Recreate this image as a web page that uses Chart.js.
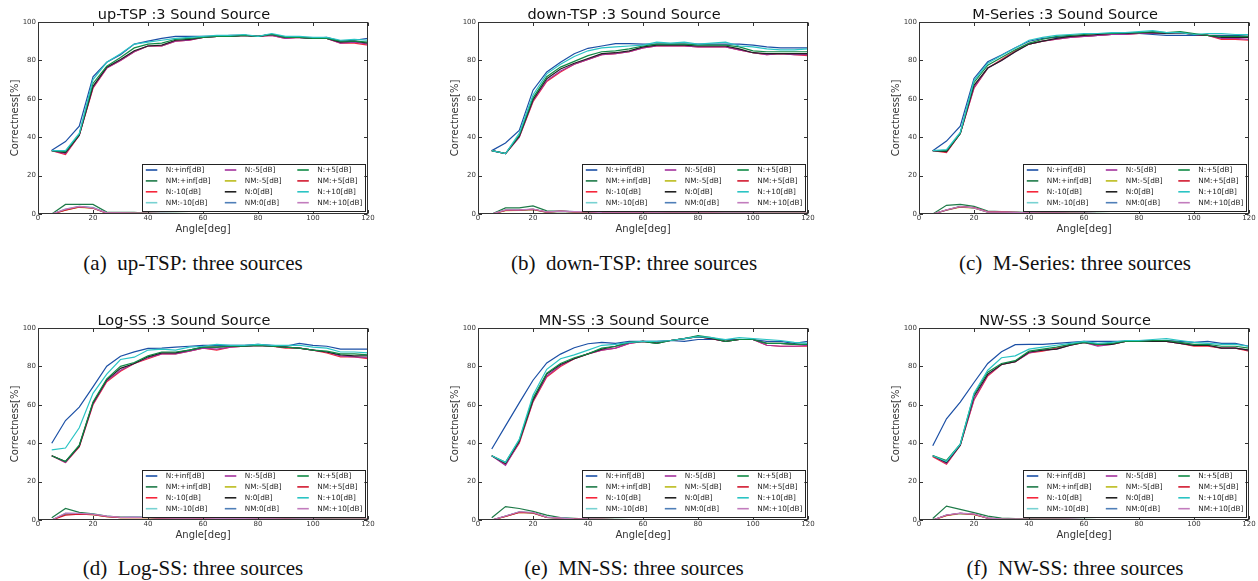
<!DOCTYPE html>
<html>
<head>
<meta charset="utf-8">
<script src="https://cdn.jsdelivr.net/npm/chart.js@4.4.0/dist/chart.umd.min.js"></script>
<style>
  html, body { margin: 0; padding: 0; background: #fff; }
  #fig { position: relative; width: 1258px; height: 581px; overflow: hidden; background: #fff; }
  .panel { position: absolute; width: 376px; height: 240px; }
  .cap { position: absolute; width: 320px; height: 24px; line-height: 24px; text-align: center;
         font-family: "Liberation Serif", "Times New Roman", serif; font-size: 21px; color: #111; white-space: pre; }
</style>
</head>
<body>
<div id="fig"></div>
<script>
// ---- shared axes ----
const angles = [5,10,15,20,25,30,35,40,45,50,55,60,65,70,75,80,85,90,95,100,105,110,115,120];
const xTicks = [0,20,40,60,80,100,120];
const yTicks = [0,20,40,60,80,100];

const seriesLabels = ['N:+inf[dB]','NM:+inf[dB]','N:-10[dB]','NM:-10[dB]','N:-5[dB]','NM:-5[dB]',
                      'N:0[dB]','NM:0[dB]','N:+5[dB]','NM:+5[dB]','N:+10[dB]','NM:+10[dB]'];
const seriesColors = ['#1b4fa5','#1d7a48','#f5273b','#78d2d2','#a3339d','#bcbc1c',
                      '#222222','#4f7fb8','#0f8a45','#d2182e','#2ac4c4','#c27cbd'];

const panelTitles = ['up-TSP :3 Sound Source','down-TSP :3 Sound Source','M-Series :3 Sound Source',
                     'Log-SS :3 Sound Source','MN-SS :3 Sound Source','NW-SS :3 Sound Source'];
const panelCaptions = ['(a)  up-TSP: three sources','(b)  down-TSP: three sources','(c)  M-Series: three sources',
                       '(d)  Log-SS: three sources','(e)  MN-SS: three sources','(f)  NW-SS: three sources'];

// ---- (a) up-TSP ----
const a_N_inf  = [33.2,37.7,45.7,71.5,79,83,88.5,90,91.5,92.5,92.5,92.5,92.5,93,93,92.5,93.5,92,92,91.5,92,90,90.5,91.5];
const a_N_p10  = [33,33,42,70,79,83.5,88.5,89.5,90.5,91.5,92,92.5,93,93,93.5,92.5,94,92.5,92.5,92,92,90.5,91,90.5];
const a_N_p5   = [33,32.5,41.5,68,77,81.5,86.5,88.5,89,91,91.5,92,92.5,92.5,93,92.5,93.5,92,92,91.5,91.5,90,90,89.5];
const a_N_0    = [33,32,41,66.5,76.5,80.5,85,87.5,88,90.5,91,92,92.5,92.5,93,92.5,93.5,92,92,91.5,91.5,89.5,90,89];
const a_N_m5   = [33,31.5,41,66,76,80,84.5,87.5,87.5,90,90.5,92,92.5,92.5,93,92.5,93,91.5,92,91.5,91.5,89,89.5,88.5];
const a_N_m10  = [33,31,41,65.5,76,80,84.5,87.5,87.5,90,90.5,92,92.5,92.5,93,92.5,93,91.5,92,91.5,91.5,89,89,88];
const a_NM_inf = [0,5,5,5,1,0.8,0.8,0.4,0.3,0.3,0.2,0.1,0.1,0,0,0,0,0,0,0,0,0,0,0];
const a_NM_m10 = [0,2.5,4,3.5,0.6,0.6,0.5,0.3,0.3,0.2,0.1,0,0,0,0,0,0,0,0,0,0,0,0,0];
const a_NM_m5  = [0,2,3.5,3,0.5,0.6,0.5,0.3,0.2,0.2,0.1,0,0,0,0,0,0,0,0,0,0,0,0,0];
const a_NM_0   = [0,2.2,3.8,3.2,0.5,0.5,0.4,0.3,0.2,0.2,0.1,0.1,0,0,0,0,0,0,0,0,0,0,0,0];
const a_NM_p5  = [0,2,3.7,3,0.5,0.5,0.4,0.3,0.2,0.2,0.1,0,0,0,0,0,0,0,0,0,0,0,0,0];
const a_NM_p10 = [0,2.5,4,3.2,0.6,0.6,0.5,0.3,0.3,0.2,0.1,0.1,0,0,0,0,0,0,0,0,0,0,0,0];

// ---- (b) down-TSP ----
const b_N_inf  = [33,37,43.5,64.5,74,79,83.5,86.3,87.5,88.7,88.7,88.5,88.5,88.5,88.5,88.5,88.5,88.5,88.5,88,87,86.5,86.5,86.5];
const b_N_p10  = [33,31.5,42,62,73,78,82,85,86.5,87,87.5,88,89.5,89,89.5,88.5,89,89.5,87.5,87,86,85.5,85.5,86];
const b_N_p5   = [33,31.5,41,60.5,71.5,76.5,79.5,82.5,84.5,85,86,87.5,88.5,88.5,88.5,88,88,88,87,85,84.5,84.5,84.5,84.5];
const b_N_0    = [33,31.5,40.5,59.5,70.5,75.5,78.5,81,83.5,84,85,87,88,88,88,87.5,87.5,87.5,86,84,83.5,83.5,83.5,83.5];
const b_N_m5   = [33,31.5,40,59,69.5,74.5,78,80.5,83,83.5,84.5,86.5,87.5,87.5,87.5,87,87,87,85.5,84,83,83.5,83,83];
const b_N_m10  = [33,31.5,40,58.5,69,74,78,80.5,83,83.5,84.5,86.5,87.5,87.5,87.5,87,87,87,85.5,84,83,83.5,83,82.5];
const b_NM_inf = [0,3.2,3.2,4.2,1.6,1.5,1.1,1.3,0.8,0.7,0.6,0.6,0.6,0.5,0.5,0.5,0.5,0.5,0.5,0.4,0.4,0.4,0.4,0.4];
const b_NM_m10 = [0,2,2,2.5,1,1.5,1.2,1.2,0.6,0.6,0.6,0.5,0.5,0.5,0.5,0.5,0.5,0.5,0.4,0.4,0.4,0.4,0.4,0.4];
const b_NM_m5  = [0,1.8,1.9,2.3,0.9,1.4,1.1,1.1,0.6,0.6,0.5,0.5,0.5,0.5,0.4,0.4,0.4,0.4,0.4,0.4,0.3,0.3,0.3,0.3];
const b_NM_0   = [0,2,2,2.4,1,1.4,1.2,1.1,0.6,0.6,0.5,0.5,0.5,0.5,0.5,0.4,0.4,0.4,0.4,0.4,0.4,0.3,0.3,0.3];
const b_NM_p5  = [0,1.9,2,2.4,1,1.5,1.1,1.2,0.6,0.6,0.6,0.6,0.5,0.5,0.5,0.5,0.5,0.4,0.4,0.4,0.4,0.4,0.4,0.4];
const b_NM_p10 = [0,2.1,2.1,2.6,1.1,1.5,1.2,1.2,0.7,0.6,0.6,0.6,0.6,0.5,0.5,0.5,0.5,0.5,0.5,0.5,0.4,0.4,0.4,0.4];

// ---- (c) M-Series ----
const c_N_inf  = [33,38,45.7,70.6,79.3,82.8,86.6,90,91.5,92,92.5,92.5,93,93.5,94,94,93.5,93,93,93,93,93,93,92.5];
const c_N_p10  = [33,33.5,42.5,69.5,78.5,82.5,86.5,90.5,92,93,93.5,94,94,94.5,94.5,95,95.5,94.5,94.5,93.5,94,94,93.5,93.5];
const c_N_p5   = [33,33,42,68.5,77.5,81.5,85.5,89,91,92.5,93,93.5,94,94,94.5,94.5,95,94.5,95,94,93,92.5,92.5,92.5];
const c_N_0    = [33,32.5,42,67,76,80,84.5,88.5,90,91.5,92.5,93,93.5,94,94,94.5,94.5,94,94.5,93.5,93,92,92,92];
const c_N_m5   = [33,32.5,42,66,76,80,84.5,88.5,90,91,92,92.5,93,93.5,93.5,94,94,94,94.5,93.5,93,91.5,91.5,91];
const c_N_m10  = [33,32,42,65.5,76,80.5,85,88.5,90,91,92,92.5,93,93.5,93.5,94,94,94,94.5,93.5,93,91,91,90.5];
const c_NM_inf = [0,4.5,5,4,1.5,1.2,1,0.8,0.6,0.5,0.4,0.4,0.3,0.2,0.2,0.1,0,0,0,0,0,0,0,0];
const c_NM_m10 = [0,2.2,4,3.4,1.1,1,0.8,0.6,0.5,0.5,0.3,0.3,0.2,0.2,0.1,0.1,0,0,0,0,0,0,0,0];
const c_NM_m5  = [0,2,3.6,3,1,1,0.8,0.6,0.5,0.4,0.3,0.2,0.2,0.1,0.1,0,0,0,0,0,0,0,0,0];
const c_NM_0   = [0,2,3.8,3.2,1,1.1,0.8,0.6,0.5,0.5,0.3,0.3,0.2,0.2,0.1,0.1,0,0,0,0,0,0,0,0];
const c_NM_p5  = [0,2.1,3.8,3.3,1.1,1.1,0.9,0.6,0.5,0.5,0.3,0.3,0.2,0.2,0.1,0.1,0,0,0,0,0,0,0,0];
const c_NM_p10 = [0,2.2,3.9,3.2,1,1,0.8,0.6,0.5,0.5,0.4,0.3,0.2,0.2,0.1,0.1,0.1,0,0,0,0,0,0,0];

// ---- (d) Log-SS ----
const d_N_inf  = [40,51.8,58.8,69.3,80.1,85.3,87.6,89.4,89.5,90,90.5,91,91,91,91,91.5,91,90.5,92,91,90.5,89,89,89];
const d_N_p10  = [36.5,37.5,48,66,76,83.6,84.8,88.5,89,88.5,90,90.5,91.5,91,91,91.5,91,91,91,90,89.5,87.5,87.5,87];
const d_N_p5   = [33.5,30.5,39,61.5,73.5,80,82,85.5,87.5,87.5,88.5,90,90,90.5,90.5,91,90.5,90,89.5,88.5,88,86.5,86.5,86];
const d_N_0    = [33.5,30.5,38.5,61,73,79,81.5,85,87,87,88.5,90,90,90.5,90.5,91,90.5,90,89.5,88.5,87.5,86,85.5,85.5];
const d_N_m5   = [33.5,30,38.5,60.5,72.5,78,81.5,84.5,86.5,86.5,88,89.5,89,90,90.5,91,90.5,90,89.5,88.5,87.5,85.5,85,84.5];
const d_N_m10  = [33.5,30,38,60,72,77.5,81.5,84,86.5,86.5,88,89.5,88.5,90,90.5,91,90.5,89.5,89.5,88.5,87,85,85,84];
const d_NM_inf = [1.2,6,4,3.2,2,1.5,1.5,1.5,1.2,1.2,1,1,0.8,0.8,0.7,0.7,0.6,0.6,0.5,0.5,0.5,0.4,0.4,0.4];
const d_NM_m10 = [0,3.5,3.3,3,2,1.3,1.5,1.3,1,1,1,0.8,0.8,0.7,0.6,0.6,0.5,0.5,0.5,0.4,0.4,0.3,0.3,0.3];
const d_NM_m5  = [0,3,3,2.8,1.8,1.2,1.3,1.2,1,0.9,0.9,0.8,0.7,0.6,0.6,0.5,0.5,0.5,0.4,0.4,0.3,0.3,0.3,0.3];
const d_NM_0   = [0,3.2,3.2,2.9,1.9,1.3,1.4,1.3,1,1,0.9,0.8,0.8,0.7,0.6,0.6,0.5,0.5,0.5,0.4,0.4,0.3,0.3,0.3];
const d_NM_p5  = [0,2.5,3,2.8,1.8,1.2,1.3,1.2,1,0.9,0.9,0.8,0.7,0.7,0.6,0.5,0.5,0.5,0.4,0.4,0.4,0.3,0.3,0.3];
const d_NM_p10 = [0,3.6,3.4,3,2,1.4,1.5,1.3,1.1,1,1,0.9,0.8,0.7,0.7,0.6,0.6,0.5,0.5,0.5,0.4,0.4,0.4,0.3];

// ---- (e) MN-SS ----
const e_N_inf  = [37,49,61,72.8,81.8,86.4,89.7,91.8,92.5,92,93,93,93,93.5,93,94,94,94,94,94,93,93,92,93];
const e_N_p10  = [33.5,30,42,65,78.5,84,86,88.5,91,91.5,92.5,93,93,93.5,94.5,95.5,95,94,95,94.5,94,93.5,92.5,92];
const e_N_p5   = [33.5,30,41.5,63.5,76.5,81.5,84.5,86.5,89.5,90.5,92.5,93,92,93.5,94.5,96,95,93,94,94,92,92,91.5,91.5];
const e_N_0    = [33.5,29.5,41,62.5,76,81,84,86.5,89,90.5,92.5,93,92,93.5,94.5,95.5,94.5,93,94,94,92,92,91.5,91.5];
const e_N_m5   = [33.5,28.5,40.5,62,75,80.5,84,86.5,88.5,89.5,92,93,92.5,93.5,94.5,95.5,94.5,93,94,94,91,90.5,90.5,91];
const e_N_m10  = [33.5,29,40,61.5,74.5,80,84,86.5,88.5,89.5,92,93,92.5,93.5,94.5,95.5,94.5,93,94,94,91,90.5,90.5,90.5];
const e_NM_inf = [1.2,7,6,4.5,2.5,1.2,0.8,0.5,0.3,0.3,0.2,0.1,0,0,0,0,0,0,0,0,0,0,0,0];
const e_NM_m10 = [0,2,4.2,3.8,1.5,1,0.6,0.4,0.3,0.2,0.1,0,0,0,0,0,0,0,0,0,0,0,0,0];
const e_NM_m5  = [0,1.8,4,3.6,1.3,0.9,0.5,0.4,0.3,0.2,0.1,0,0,0,0,0,0,0,0,0,0,0,0,0];
const e_NM_0   = [0,2,4.1,3.7,1.4,1,0.6,0.4,0.3,0.2,0.1,0,0,0,0,0,0,0,0,0,0,0,0,0];
const e_NM_p5  = [0,1.9,4,3.7,1.4,0.9,0.6,0.4,0.3,0.2,0.1,0,0,0,0,0,0,0,0,0,0,0,0,0];
const e_NM_p10 = [0,2.1,4.3,3.9,1.5,1,0.6,0.5,0.3,0.2,0.1,0.1,0,0,0,0,0,0,0,0,0,0,0,0];

// ---- (f) NW-SS ----
const f_N_inf  = [38.7,52.7,61.4,71.6,81.5,87.6,91.3,91.5,91.5,92,92.5,93,93,93,93,93,93.5,93.5,93,92.5,93,92,92,90.5];
const f_N_p10  = [33.5,30.5,39.5,66,78,84.5,85.5,89,90,91,92,93,92,92.5,93.5,93.5,94,94.5,93.5,92.5,92,91.5,91.5,90.5];
const f_N_p5   = [33.5,31,39.5,65.5,77,81.5,83,88,89,90,91.5,92.5,91.5,92,93,93,93.5,93.5,92.5,91.5,91.5,90.5,90.5,89.5];
const f_N_0    = [33.5,30,39,64.5,76,81,82.5,87.5,88.5,89,91,92.5,91.5,91.5,93,93,93,93,92,91,91,89.5,89.5,88.5];
const f_N_m5   = [33.5,29.5,39,63,75.5,81,82.5,87,88.5,89,91,92.5,90.5,91.5,93,93.5,93,93,92,91,91,89.5,89.5,88.5];
const f_N_m10  = [33,29,39,62.5,75,81,82.5,87,88,89.5,91,92.5,91,91.5,93,93.5,93,93,92,90.5,90.5,89.5,89.5,88];
const f_NM_inf = [0.8,7.2,5.5,3.8,2,1,0.7,0.6,0.5,0.5,0.4,0.3,0.2,0.1,0,0,0,0,0,0,0,0,0,0];
const f_NM_m10 = [0,2.5,3.5,3,1,0.5,0.4,0.4,0.3,0.3,0.3,0.2,0.2,0.1,0.1,0.1,0.1,0.1,0.1,0.1,0,0,0,0];
const f_NM_m5  = [0,2.3,3.3,2.8,0.9,0.5,0.4,0.3,0.3,0.3,0.2,0.2,0.1,0.1,0.1,0.1,0.1,0.1,0.1,0,0,0,0,0];
const f_NM_0   = [0,2.5,3.4,3,1,0.5,0.4,0.4,0.3,0.3,0.3,0.2,0.2,0.1,0.1,0.1,0.1,0.1,0.1,0.1,0,0,0,0];
const f_NM_p5  = [0,2.4,3.5,2.9,1,0.5,0.4,0.4,0.3,0.3,0.3,0.2,0.2,0.1,0.1,0.1,0.1,0.1,0.1,0.1,0.1,0,0,0];
const f_NM_p10 = [0,2.6,3.6,3.1,1,0.6,0.5,0.4,0.3,0.3,0.3,0.2,0.2,0.2,0.1,0.1,0.1,0.1,0.1,0.1,0.1,0,0,0];

// series for each panel, in legend (column-major) order
const panelSeries = [
  [a_N_inf,a_NM_inf,a_N_m10,a_NM_m10,a_N_m5,a_NM_m5,a_N_0,a_NM_0,a_N_p5,a_NM_p5,a_N_p10,a_NM_p10],
  [b_N_inf,b_NM_inf,b_N_m10,b_NM_m10,b_N_m5,b_NM_m5,b_N_0,b_NM_0,b_N_p5,b_NM_p5,b_N_p10,b_NM_p10],
  [c_N_inf,c_NM_inf,c_N_m10,c_NM_m10,c_N_m5,c_NM_m5,c_N_0,c_NM_0,c_N_p5,c_NM_p5,c_N_p10,c_NM_p10],
  [d_N_inf,d_NM_inf,d_N_m10,d_NM_m10,d_N_m5,d_NM_m5,d_N_0,d_NM_0,d_N_p5,d_NM_p5,d_N_p10,d_NM_p10],
  [e_N_inf,e_NM_inf,e_N_m10,e_NM_m10,e_N_m5,e_NM_m5,e_N_0,e_NM_0,e_N_p5,e_NM_p5,e_N_p10,e_NM_p10],
  [f_N_inf,f_NM_inf,f_N_m10,f_NM_m10,f_N_m5,f_NM_m5,f_N_0,f_NM_0,f_N_p5,f_NM_p5,f_N_p10,f_NM_p10]
];

// ---- layout ----
const FONT = '"DejaVu Sans", "Liberation Sans", sans-serif';
const panelLeft = [0, 440, 881];
const panelTop = [0, 306];
const capCenterX = [193, 634, 1075];
const capCenterY = [262.5, 567.5];

// frame with inward ticks on all four sides
const framePlugin = {
  id: 'frame',
  afterDatasetsDraw(chart) {
    const { ctx, chartArea: ca, scales } = chart;
    const L = Math.round(ca.left) + 0.5, R = Math.round(ca.right) - 0.5;
    const T = Math.round(ca.top) + 0.5, B = Math.round(ca.bottom) - 0.5;
    const tl = 3.5;
    ctx.save();
    ctx.strokeStyle = '#333';
    ctx.lineWidth = 1;
    ctx.beginPath();
    xTicks.forEach(v => {
      const px = Math.round(scales.x.getPixelForValue(v)) + 0.5;
      ctx.moveTo(px, B); ctx.lineTo(px, B - tl);
      ctx.moveTo(px, T); ctx.lineTo(px, T + tl);
    });
    yTicks.forEach(v => {
      const py = Math.round(scales.y.getPixelForValue(v)) + 0.5;
      ctx.moveTo(L, py); ctx.lineTo(L + tl, py);
      ctx.moveTo(R, py); ctx.lineTo(R - tl, py);
    });
    ctx.stroke();
    ctx.strokeRect(L, T, R - L, B - T);
    ctx.restore();
  }
};

// three-column legend box in the lower right of the plot
const legendCols = [4, 83, 155.5];
const legendPlugin = {
  id: 'boxLegend',
  afterDraw(chart) {
    const { ctx, chartArea: ca } = chart;
    const w = 222.5, h = 47;
    const x0 = ca.right - 3.7 - w, y0 = ca.bottom - 3 - h;
    ctx.save();
    ctx.fillStyle = '#fff';
    ctx.fillRect(x0, y0, w, h);
    ctx.strokeStyle = '#222';
    ctx.lineWidth = 1;
    ctx.strokeRect(Math.round(x0) + 0.5, Math.round(y0) + 0.5, Math.round(w), Math.round(h));
    ctx.font = '7.3px ' + FONT;
    ctx.textBaseline = 'middle';
    ctx.textAlign = 'left';
    chart.data.datasets.forEach((ds, i) => {
      const col = Math.floor(i / 4), row = i % 4;
      const cx = x0 + legendCols[col];
      const cy = y0 + 6 + row * 10.9;
      ctx.strokeStyle = ds.borderColor;
      ctx.lineWidth = 1.6;
      ctx.beginPath();
      ctx.moveTo(cx, cy); ctx.lineTo(cx + 11.5, cy);
      ctx.stroke();
      ctx.fillStyle = '#222';
      ctx.fillText(ds.label, cx + 20, cy + 0.5);
    });
    ctx.restore();
  }
};

const fig = document.getElementById('fig');

panelSeries.forEach((series, p) => {
  const col = p % 3, row = Math.floor(p / 3);
  const canvas = document.createElement('canvas');
  canvas.className = 'panel';
  canvas.width = 376; canvas.height = 240;
  canvas.style.left = panelLeft[col] + 'px';
  canvas.style.top = panelTop[row] + 'px';
  fig.appendChild(canvas);

  const cap = document.createElement('div');
  cap.className = 'cap';
  cap.textContent = panelCaptions[p];
  cap.style.left = (capCenterX[col] - 160) + 'px';
  cap.style.top = (capCenterY[row] - 12) + 'px';
  fig.appendChild(cap);

  const datasets = series.map((vals, i) => ({
    label: seriesLabels[i],
    data: angles.map((a, k) => ({ x: a, y: vals[k] })),
    borderColor: seriesColors[i],
    backgroundColor: seriesColors[i],
    borderWidth: 1.2,
    pointRadius: 0,
    tension: 0,
    fill: false,
    order: -i
  }));

  new Chart(canvas, {
    type: 'line',
    data: { datasets },
    options: {
      responsive: false,
      animation: false,
      devicePixelRatio: 1,
      events: [],
      layout: { padding: { left: 0, right: 8, top: 0, bottom: 0 } },
      plugins: {
        legend: { display: false },
        tooltip: { enabled: false },
        title: {
          display: true,
          text: panelTitles[p],
          color: '#111',
          font: { family: FONT, size: 14.5, weight: 'normal', lineHeight: 1 },
          padding: { top: 7.5, bottom: 0 }
        }
      },
      scales: {
        x: {
          type: 'linear',
          min: 0, max: 120,
          afterBuildTicks: s => { s.ticks = xTicks.map(v => ({ value: v })); },
          afterFit: s => { s.height = 26; },
          grid: { display: false, drawTicks: false },
          border: { display: false },
          ticks: { font: { family: FONT, size: 7 }, color: '#333', padding: 0, maxRotation: 0, autoSkip: false },
          title: { display: true, text: 'Angle[deg]', color: '#333', font: { family: FONT, size: 10 }, padding: { top: 0, bottom: 5 } }
        },
        y: {
          type: 'linear',
          min: 0, max: 100,
          afterBuildTicks: s => { s.ticks = yTicks.map(v => ({ value: v })); },
          afterFit: s => { s.width = 38; },
          grid: { display: false, drawTicks: false },
          border: { display: false },
          ticks: { font: { family: FONT, size: 7 }, color: '#333', padding: 2, autoSkip: false },
          title: { display: true, text: 'Correctness[%]', color: '#333', font: { family: FONT, size: 10 }, padding: { top: 9, bottom: 0 } }
        }
      }
    },
    plugins: [framePlugin, legendPlugin]
  });
});
</script>
</body>
</html>
